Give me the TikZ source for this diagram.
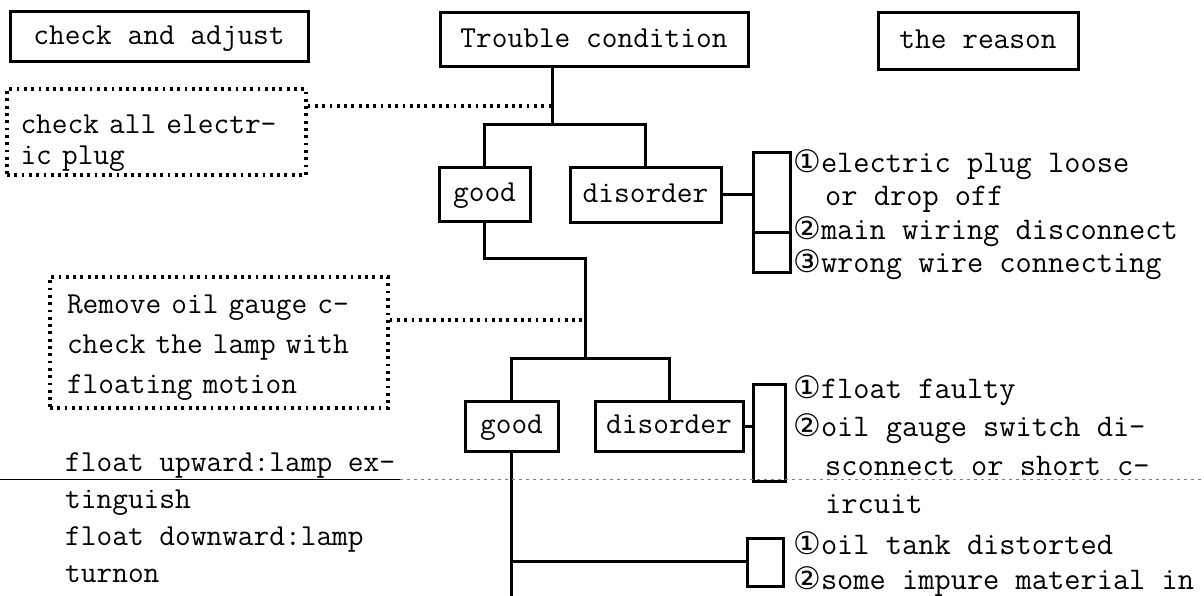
\documentclass[tikz,border=0pt]{standalone}
\usepackage{fontspec}
\usepackage{tikz}
\newfontfamily\circfont{DejaVu Sans}
\newcommand\circnum[1]{{\circfont\fontsize{31}{31}\selectfont #1}}

\begin{document}
\begin{tikzpicture}[x=1pt,y=-1pt]
\def\fs{30.5}
\def\rs{31.5}
\tikzset{
	box/.style={
		draw,
		rectangle,
		line width=3pt,
		inner sep=0pt,
		text height=21pt,
		text depth=6pt,
		font=\ttfamily\fontsize{\fs}{\fs}\selectfont
	},
	brk/.style={draw, rectangle, line width=3pt, inner sep=0pt},
	dotbox/.style={
		draw,
		rectangle,
		line width=3.2pt,
		dash pattern=on 2.8pt off 4.5pt,
		inner sep=0pt,
		align=left,
		font=\ttfamily\fontsize{\fs}{#1}\selectfont
	},
	link/.style={line width=3pt},
	dotlink/.style={line width=3.2pt, dash pattern=on 2.8pt off 4.5pt},
	txt/.style={anchor=base west, inner sep=0pt, font=\ttfamily\fontsize{\fs}{\fs}\selectfont},
	rtxt/.style={anchor=base west, inner sep=0pt, font=\ttfamily\fontsize{\rs}{\rs}\selectfont}
}
\useasboundingbox (0,0) rectangle (1204,596);
\node[box, minimum width=298pt, minimum height=50pt] (adjust) at (159,37) {check and adjust};
\node[box, minimum width=308pt, minimum height=54pt] (trouble) at (594,40) {Trouble condition};
\node[box, minimum width=200pt, minimum height=57pt] (reason) at (978,41.5) {the reason};
\node[dotbox=31pt, minimum width=299pt, minimum height=86pt, text width=272pt, text height=40pt] (plug) at (156.5,132) {check all electr-\\ic plug};
\node[dotbox=40pt, minimum width=338pt, minimum height=131pt, text width=304pt, text height=28pt] (pump) at (219,342.5) {Remove oil gauge c-\\check the lamp with\\floating motion};
\node[box, minimum width=91pt, minimum height=53pt] (good1) at (484.5,194.5) {good};
\node[box, minimum width=151pt, minimum height=54pt] (bad1) at (645.5,195) {disorder};
\node[box, minimum width=93pt, minimum height=50pt] (good2) at (511.5,426) {good};
\node[box, minimum width=148pt, minimum height=50pt] (bad2) at (669,426) {disorder};
\node[brk, minimum width=37pt, minimum height=119pt] (brk1) at (771.5,212.5) {};
\node[brk, minimum width=32pt, minimum height=97pt] (brk2) at (769,432.5) {};
\node[brk, minimum width=36pt, minimum height=48pt] (brk3) at (765,562) {};
\coordinate (t1) at (552,125);
\coordinate (d1) at (552,106);
\coordinate (t2) at (585,258);
\coordinate (t3) at (585,358);
\coordinate (d2) at (585,320);
\coordinate (f1) at (511.5,561);
\coordinate (foot) at (511.5,596);
\draw[link] (trouble.south -| t1) -- (t1);
\draw[dotlink] (plug.east |- d1) -- (d1);
\draw[link] (good1.north) |- (t1) -| (bad1.north);
\draw[link] (bad1.east) -- (bad1.east -| brk1.west);
\draw[link] ([yshift=-19.5pt]brk1.west) -- ([yshift=-19.5pt]brk1.east);
\draw[link] (good1.south) |- (t2) -- (t3);
\draw[dotlink] (pump.east |- d2) -- (d2);
\draw[link] (good2.north) |- (t3) -| (bad2.north);
\draw[link] (bad2.east) -- (bad2.east -| brk2.west);
\draw[link] (good2.south) -- (foot);
\draw[link] (f1) -- (f1 -| brk3.west);
\foreach \t [count=\i] in {{\circnum{①}electric plug loose},{\hspace*{32pt}or drop off},{\circnum{②}main wiring disconnect},{\circnum{③}wrong wire connecting}}
{
	\node[rtxt] (plugwhy\i) at (793,140+33*\i) {\t};
}
\foreach \t [count=\i] in {{\circnum{①}float faulty},{\circnum{②}oil gauge switch di-},{\hspace*{32pt}sconnect or short c-},{\hspace*{32pt}ircuit}}
{
	\node[rtxt] (gaugewhy\i) at (793,359.5+38.5*\i) {\t};
}
\foreach \t [count=\i] in {{\circnum{①}oil tank distorted},{\circnum{②}some impure material in}}
{
	\node[rtxt] (tankwhy\i) at (793,519+35*\i) {\t};
}
\foreach \t [count=\i] in {float upward:lamp ex-,tinguish,float downward:lamp,turnon}
{
	\node[txt] (note\i) at (65,433.7+37.3*\i) {\t};
}
\draw[line width=0.8pt] (0,479) -- (400,479);
\draw[line width=0.7pt, gray, dash pattern=on 3pt off 4pt] (400,479) -- (1204,479);
\end{tikzpicture}
\end{document}
